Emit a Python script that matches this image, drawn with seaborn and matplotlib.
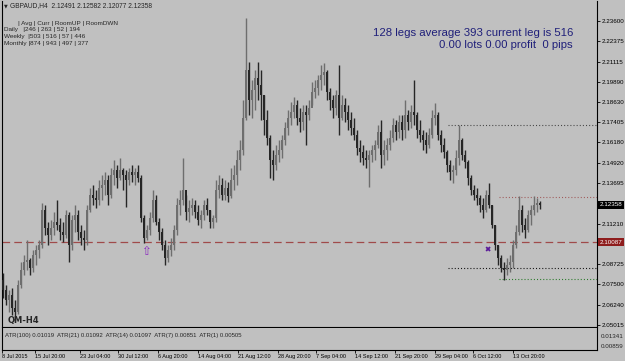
import matplotlib
matplotlib.use("Agg")
import matplotlib.pyplot as plt
import matplotlib.transforms as mtransforms
import numpy as np
import pandas as pd
import seaborn as sns

# ---------------- data ----------------
header_text = "GBPAUD,H4  2.12491 2.12582 2.12077 2.12358"
first_open = 2.0777

close = [
    2.0716, 2.0654, 2.0685, 2.0606, 2.0581, 2.0746, 2.0838, 2.0887, 2.0899, 2.0850,
    2.0929, 2.0960, 2.0991, 2.1204, 2.1094, 2.1052, 2.1094, 2.1131, 2.1113, 2.1070,
    2.1052, 2.1174, 2.0991, 2.1143, 2.1174, 2.1070, 2.1033, 2.1021, 2.1204, 2.1296,
    2.1278, 2.1266, 2.1339, 2.1357, 2.1388, 2.1296, 2.1418, 2.1449, 2.1400, 2.1449,
    2.1418, 2.1388, 2.1437, 2.1418, 2.1437, 2.1400, 2.1156, 2.1033, 2.1082, 2.1156,
    2.1266, 2.1131, 2.1070, 2.0991, 2.0911, 2.0960, 2.0991, 2.1082, 2.1235, 2.1266,
    2.1327, 2.1192, 2.1217, 2.1235, 2.1192, 2.1143, 2.1174, 2.1235, 2.1204, 2.1131,
    2.1156, 2.1327, 2.1357, 2.1296, 2.1339, 2.1290, 2.1388, 2.1418, 2.1510, 2.1571,
    2.1767, 2.2060, 2.1877, 2.1938, 2.2011, 2.1968, 2.1907, 2.1755, 2.1645, 2.1510,
    2.1480, 2.1541, 2.1571, 2.1632, 2.1706, 2.1767, 2.1803, 2.1846, 2.1767, 2.1742,
    2.1803, 2.1785, 2.1828, 2.1926, 2.1950, 2.1999, 2.2030, 2.2048, 2.1926, 2.1877,
    2.1828, 2.1907, 2.1767, 2.1846, 2.1803, 2.1755, 2.1706, 2.1663, 2.1583, 2.1559,
    2.1522, 2.1510, 2.1541, 2.1571, 2.1602, 2.1681, 2.1541, 2.1571, 2.1602, 2.1645,
    2.1724, 2.1681, 2.1742, 2.1693, 2.1785, 2.1742, 2.1803, 2.1785, 2.1693, 2.1663,
    2.1632, 2.1602, 2.1663, 2.1767, 2.1785, 2.1663, 2.1602, 2.1559, 2.1480, 2.1437,
    2.1449, 2.1522, 2.1632, 2.1541, 2.1498, 2.1400, 2.1327, 2.1296, 2.1278, 2.1235,
    2.1204, 2.1296, 2.1235, 2.1113, 2.0991, 2.0911, 2.0850, 2.0838, 2.0868, 2.0887,
    2.0991, 2.1070, 2.1204, 2.1113, 2.1082, 2.1174, 2.1204, 2.1235, 2.1249, 2.12358,
]

high = [
    2.0819, 2.0746, 2.0716, 2.0728, 2.0654, 2.0777, 2.0887, 2.0929, 2.1021, 2.0911,
    2.0960, 2.0991, 2.1021, 2.1247, 2.1235, 2.1131, 2.1143, 2.1192, 2.1266, 2.1156,
    2.1131, 2.1204, 2.1192, 2.1174, 2.1235, 2.1204, 2.1113, 2.1082, 2.1235, 2.1339,
    2.1357, 2.1327, 2.1388, 2.1418, 2.1437, 2.1418, 2.1461, 2.1510, 2.1480, 2.1522,
    2.1461, 2.1449, 2.1461, 2.1480, 2.1461, 2.1480, 2.1418, 2.1174, 2.1113, 2.1192,
    2.1327, 2.1296, 2.1156, 2.1094, 2.1021, 2.0991, 2.1033, 2.1113, 2.1278, 2.1327,
    2.1522, 2.1296, 2.1266, 2.1278, 2.1266, 2.1235, 2.1204, 2.1266, 2.1278, 2.1204,
    2.1174, 2.1388, 2.1418, 2.1400, 2.1388, 2.1376, 2.1461, 2.1480, 2.1571, 2.1632,
    2.1877, 2.2378, 2.2109, 2.1999, 2.2060, 2.2109, 2.2060, 2.1907, 2.1816, 2.1663,
    2.1571, 2.1602, 2.1632, 2.1663, 2.1742, 2.1816, 2.1865, 2.1895, 2.1877, 2.1828,
    2.1846, 2.1846, 2.1877, 2.1987, 2.1999, 2.2030, 2.2091, 2.2103, 2.2060, 2.1950,
    2.1907, 2.1938, 2.2091, 2.1907, 2.1889, 2.1846, 2.1803, 2.1767, 2.1693, 2.1632,
    2.1602, 2.1571, 2.1571, 2.1602, 2.1632, 2.1724, 2.1755, 2.1632, 2.1645, 2.1693,
    2.1767, 2.1755, 2.1785, 2.1785, 2.1877, 2.1816, 2.1846, 2.1999, 2.1803, 2.1755,
    2.1693, 2.1681, 2.1706, 2.1816, 2.1858, 2.1803, 2.1693, 2.1645, 2.1571, 2.1510,
    2.1480, 2.1571, 2.1724, 2.1645, 2.1571, 2.1510, 2.1418, 2.1357, 2.1339, 2.1296,
    2.1278, 2.1327, 2.1370, 2.1235, 2.1113, 2.0991, 2.0929, 2.0887, 2.0911, 2.0929,
    2.1021, 2.1113, 2.1290, 2.1235, 2.1156, 2.1204, 2.1235, 2.1290, 2.1278, 2.12582,
]

low = [
    2.0667, 2.0624, 2.0581, 2.0563, 2.0532, 2.0569, 2.0728, 2.0807, 2.0838, 2.0807,
    2.0826, 2.0868, 2.0911, 2.0972, 2.1052, 2.0991, 2.1021, 2.1052, 2.1082, 2.1021,
    2.1009, 2.1033, 2.0887, 2.0960, 2.1070, 2.1021, 2.0991, 2.0960, 2.0991, 2.1192,
    2.1235, 2.1217, 2.1235, 2.1266, 2.1296, 2.1235, 2.1278, 2.1357, 2.1339, 2.1388,
    2.1327, 2.1223, 2.1357, 2.1376, 2.1357, 2.1376, 2.1131, 2.1003, 2.1021, 2.1052,
    2.1131, 2.1113, 2.1021, 2.0960, 2.0868, 2.0887, 2.0923, 2.0960, 2.1052, 2.1174,
    2.1235, 2.1143, 2.1131, 2.1174, 2.1156, 2.1113, 2.1094, 2.1143, 2.1174, 2.1094,
    2.1094, 2.1131, 2.1278, 2.1266, 2.1266, 2.1253, 2.1278, 2.1327, 2.1357, 2.1449,
    2.1541, 2.1755, 2.1785, 2.1767, 2.1816, 2.1877, 2.1755, 2.1663, 2.1602, 2.1400,
    2.1388, 2.1449, 2.1498, 2.1522, 2.1602, 2.1663, 2.1724, 2.1767, 2.1724, 2.1681,
    2.1693, 2.1602, 2.1755, 2.1846, 2.1889, 2.1907, 2.1938, 2.1968, 2.1877, 2.1816,
    2.1767, 2.1785, 2.1663, 2.1755, 2.1742, 2.1693, 2.1663, 2.1632, 2.1541, 2.1498,
    2.1480, 2.1461, 2.1345, 2.1498, 2.1510, 2.1583, 2.1461, 2.1480, 2.1510, 2.1571,
    2.1620, 2.1632, 2.1645, 2.1632, 2.1645, 2.1693, 2.1706, 2.1724, 2.1645, 2.1620,
    2.1571, 2.1553, 2.1583, 2.1645, 2.1724, 2.1632, 2.1559, 2.1522, 2.1437, 2.1388,
    2.1370, 2.1418, 2.1480, 2.1510, 2.1461, 2.1357, 2.1296, 2.1266, 2.1235, 2.1192,
    2.1156, 2.1192, 2.1217, 2.1094, 2.0960, 2.0868, 2.0826, 2.0777, 2.0807, 2.0826,
    2.0850, 2.0972, 2.1052, 2.1070, 2.1033, 2.1070, 2.1113, 2.1174, 2.1192, 2.12077,
]

# price-axis ticks
price_ticks = [2.23600, 2.22375, 2.21115, 2.19890, 2.18630, 2.17405, 2.16180,
               2.14920, 2.13695, 2.11210, 2.08725, 2.07500, 2.06240, 2.05015]
current_price = 2.12358
support_price = 2.10087

# dotted levels: price, starting bar, colour
level_prices = [2.1724, 2.1284, 2.0850, 2.0783]
level_start = [148.3, 165.3, 148.3, 165.3]
level_colors = ["#454545", "#a05a5a", "#111111", "#2a7a2a"]

# signal markers
arrow_bar, arrow_price = [47.7], [2.0952]
cross_bar, cross_price = [161.7], [2.0966]

# date axis
date_labels = ["8 Jul 2015", "15 Jul 20:00", "23 Jul 04:00", "30 Jul 12:00",
               "6 Aug 20:00", "14 Aug 04:00", "21 Aug 12:00", "28 Aug 20:00",
               "7 Sep 04:00", "14 Sep 12:00", "21 Sep 20:00", "29 Sep 04:00",
               "6 Oct 12:00", "13 Oct 20:00"]
date_bars = [-0.33, 10.67, 25.67, 38.33, 51.67, 65.0, 78.33, 91.67,
             104.33, 117.33, 130.67, 144.0, 156.67, 170.0]

# ATR subwindow
atr_ticks = [0.01341, 0.00859]
atr_text = "ATR(100) 0.01019  ATR(21) 0.01092  ATR(14) 0.01097  ATR(7) 0.00851  ATR(1) 0.00505"

table_rows = ["        | Avg | Curr | RoomUP | RoomDWN",
              "Daily   |246 | 263 | 52 | 194",
              "Weekly  |503 | 516 | 57 | 446",
              "Monthly |874 | 943 | 497 | 377"]
info_lines = ["128 legs average 393 current leg is 516",
              "0.00 lots 0.00 profit  0 pips"]

# ---------------- figure ----------------
BG = "#c0c0c0"
sns.set_style("white", {"axes.facecolor": BG, "figure.facecolor": BG})
plt.rcParams["font.family"] = ["Liberation Sans", "DejaVu Sans"]
plt.rcParams["lines.scale_dashes"] = False

W, H = 625, 361
fig = plt.figure(figsize=(W / 100, H / 100), dpi=100, facecolor=BG)


def fx(px):
    return px / W


def fy(py):
    return 1 - py / H


ax = fig.add_axes([fx(2), fy(327), fx(597) - fx(2), fy(1) - fy(327)])
ax.set_facecolor(BG)
ax.set_xlim(-1 / 3, 198)
ax.set_ylim(2.04893, 2.24819)

opens = [first_open] + close[:-1]
df = pd.DataFrame({"bar": np.arange(len(close)), "open": opens,
                   "high": high, "low": low, "close": close})
df["up"] = df["close"] >= df["open"]
col_up, col_dn = "#6e6e6e", "#262626"
colors = np.where(df["up"], col_up, col_dn)

ax.vlines(df["bar"], df["low"], df["high"], colors=colors, lw=1.0, zorder=3)
body_lo = np.minimum(df["open"], df["close"])
body_h = np.maximum(np.abs(df["close"] - df["open"]), 0.0003)
ax.bar(df["bar"], body_h, bottom=body_lo, width=0.92, color=colors,
       linewidth=0, zorder=3)

# support dashed line
ax.axhline(support_price, color="#a04a4a", lw=0.9, ls=(0, (5.5, 3.0)), zorder=2)

# dotted levels (seaborn lines)
for p, s, c in zip(level_prices, level_start, level_colors):
    seg = pd.DataFrame({"x": [s, 198], "y": [p, p]})
    sns.lineplot(data=seg, x="x", y="y", ax=ax, color=c, lw=0.8,
                 linestyle=(0, (0.75, 1.5)), zorder=2)

# markers
for b, p in zip(arrow_bar, arrow_price):
    ax.text(b, p, "\u21e7", color="#8a2bbf", fontsize=8.5, ha="center",
            va="center", family=["DejaVu Sans"], zorder=4)
sns.scatterplot(x=cross_bar, y=cross_price, ax=ax, marker="X", s=14,
                color="#5a1a9a", edgecolor="none", zorder=4)

ax.set_xlabel("")
ax.set_ylabel("")
ax.set_xticks([])
ax.yaxis.tick_right()
ax.set_yticks(price_ticks)
ax.set_yticklabels([f"{t:.5f}" for t in price_ticks])
ax.tick_params(axis="y", right=True, length=2, width=0.6, pad=1,
               labelsize=4.5, colors="black")
ax.spines["top"].set_visible(False)
for s in ["left", "right", "bottom"]:
    ax.spines[s].set_color("black")
    ax.spines[s].set_linewidth(0.8)

# boxed labels on price axis
trans = mtransforms.blended_transform_factory(ax.transAxes, ax.transData)
ax.text(1.004, current_price, f"{current_price:.5f}", transform=trans,
        fontsize=4.5, color="white", va="center", ha="left",
        bbox=dict(boxstyle="square,pad=0.25", fc="black", ec="none"), zorder=6,
        clip_on=False)
ax.text(1.004, support_price, f"{support_price:.5f}", transform=trans,
        fontsize=4.5, color="white", va="center", ha="left",
        bbox=dict(boxstyle="square,pad=0.25", fc="#8e1c1c", ec="none"), zorder=6,
        clip_on=False)

# ATR subwindow
ax2 = fig.add_axes([fx(2), fy(350), fx(597) - fx(2), fy(328) - fy(350)])
ax2.set_facecolor(BG)
ax2.set_xlim(-1 / 3, 198)
ax2.set_ylim(0.00666, 0.01727)
ax2.yaxis.tick_right()
ax2.set_yticks(atr_ticks)
ax2.set_yticklabels([f"{t:.5f}" for t in atr_ticks])
ax2.tick_params(axis="y", right=True, length=0, pad=3, labelsize=4.5)
ax2.set_xticks(date_bars)
ax2.set_xticklabels(date_labels, ha="left")
ax2.tick_params(axis="x", bottom=True, length=2, width=0.6, pad=1,
                labelsize=4.0, colors="black")
for s in ["left", "right", "bottom", "top"]:
    ax2.spines[s].set_color("black")
    ax2.spines[s].set_linewidth(0.8)
ax2.spines["top"].set_visible(False)

# texts
fig.text(fx(4), fy(6), "\u25bc", fontsize=3.5, va="center", ha="left",
         family=["DejaVu Sans"])
fig.text(fx(10), fy(6), header_text, fontsize=4.8, va="center", ha="left")
for i, row in enumerate(table_rows):
    fig.text(fx(4), fy(23 + i * 6.8), row, fontsize=4.6, va="center", ha="left")
for i, line in enumerate(info_lines):
    fig.text(fx(573), fy(33 + i * 12), line, fontsize=8.2, va="center",
             ha="right", color="#20207a")
fig.text(fx(8), fy(320), "QM-H4", fontsize=6, fontweight="bold",
         va="center", ha="left", family=["DejaVu Sans"])
fig.text(fx(5), fy(335), atr_text, fontsize=4.3, va="center", ha="left")

fig.savefig("out.png", dpi=100, facecolor=BG)
